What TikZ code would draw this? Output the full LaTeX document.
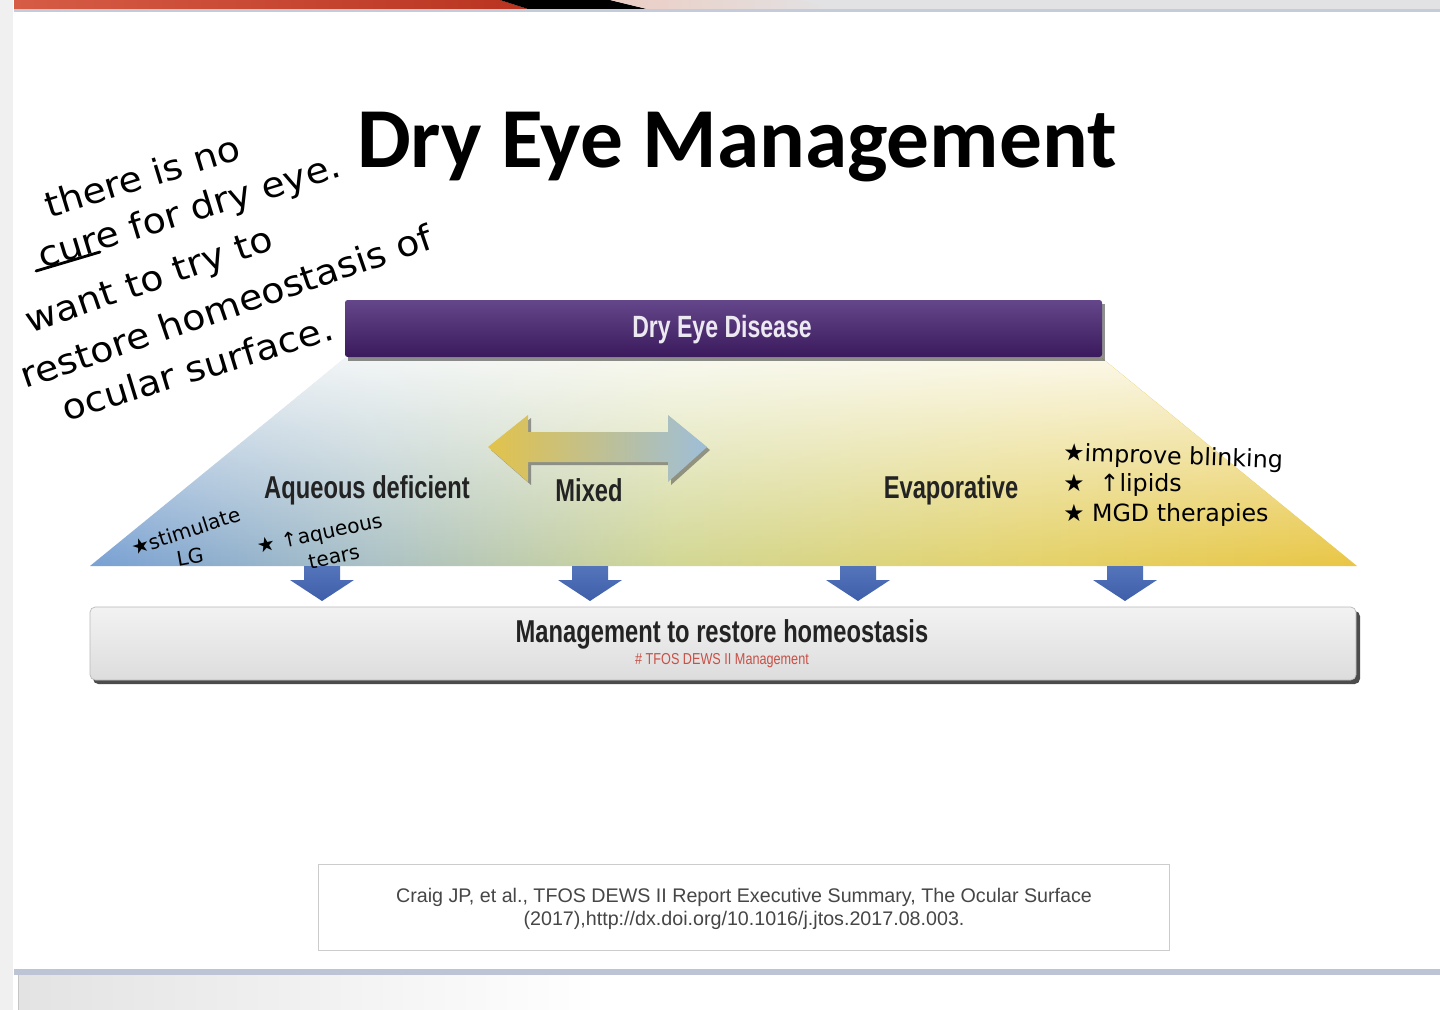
\documentclass[tikz,border=0pt]{standalone}
\usepackage{fontspec}
\usepackage{graphicx}
\usetikzlibrary{fadings}
\setmainfont{Liberation Sans}
\newfontfamily\carl{Carlito}
\newfontfamily\hand{DejaVu Sans}
\newcommand\narrowtxt[1]{\scalebox{0.75}[1]{#1}}
\newcommand\widetxt[1]{\scalebox{1.08}[1]{#1}}
\definecolor{tA}{RGB}{120,160,212}
\definecolor{tB}{RGB}{170,193,198}
\definecolor{tC}{RGB}{210,215,148}
\definecolor{tD}{RGB}{228,210,106}
\definecolor{tE}{RGB}{233,198,68}
\definecolor{purTop}{RGB}{100,70,138}
\definecolor{purBot}{RGB}{58,26,92}
\definecolor{arrBlue}{RGB}{62,94,170}
\definecolor{arrBlueT}{RGB}{84,116,186}
\definecolor{dyel}{RGB}{226,194,74}
\definecolor{dblue}{RGB}{158,190,216}
\definecolor{labtxt}{RGB}{35,35,35}
\definecolor{redtxt}{RGB}{200,80,70}
\definecolor{citetxt}{RGB}{70,70,70}
\definecolor{redA}{RGB}{214,92,70}
\definecolor{redB}{RGB}{185,52,32}
\definecolor{pinkA}{RGB}{236,205,195}
\definecolor{topgray}{RGB}{226,226,228}
\definecolor{blueline}{RGB}{196,204,220}
\pgfdeclarehorizontalshading{trapshade}{100bp}{color(0bp)=(tA); color(25bp)=(tA); color(36bp)=(tB); color(48bp)=(tC); color(62bp)=(tD); color(75bp)=(tE); color(100bp)=(tE)}
\tikzset{
  lab/.style={font=\fontsize{18}{20}\selectfont\bfseries, text=labtxt, inner sep=0pt},
  hw/.style={font=\hand\fontsize{20}{22}\selectfont, inner sep=0pt},
  hws/.style={font=\hand\fontsize{11.5}{13}\selectfont, inner sep=0pt},
  hwr/.style={font=\hand\fontsize{13.5}{15}\selectfont, inner sep=0pt, anchor=west},
  downarr/.style={top color=arrBlueT, bottom color=arrBlue, draw=none},
}
\begin{document}
\begin{tikzpicture}[x=0.02cm,y=-0.02cm]
\useasboundingbox (0,0) rectangle (1440,1010);
\fill[white] (0,0) rectangle (1440,1010);
% left strip
\fill[gray!12] (0,0) rectangle (13,1010);
% top bar
\fill[topgray] (14,0) rectangle (1440,9);
\shade[left color=redA, right color=redB] (14,0) -- (500,0) -- (528,9) -- (14,9) -- cycle;
\fill[black] (500,0) -- (610,0) -- (647,9) -- (528,9) -- cycle;
\shade[left color=pinkA, right color=topgray] (610,0) -- (800,0) -- (835,9) -- (647,9) -- cycle;
\fill[blueline] (14,9) rectangle (1440,12);
% bottom bar
\fill[blueline!90!gray] (14,969) rectangle (1440,975);
\shade[left color=gray!22, right color=white] (18,975) rectangle (600,1010);
\draw[gray!45] (18,975) -- (18,1010);

% title
\node[font=\carl\bfseries\fontsize{48.6}{52}\selectfont, anchor=base, inner sep=0pt] (title) at (737,168) {Dry Eye Management};

% trapezoid
\path[shading=trapshade] (345,358) -- (1102,358) -- (1357,566) -- (90,566) -- cycle;
\fill[white, fill opacity=0.85, path fading=south] (345,358) -- (1102,358) -- (1357,566) -- (90,566) -- cycle;

% purple bar
\fill[black!80, opacity=0.55] (348,304) rectangle (1105,361);
\shade[top color=purTop, bottom color=purBot, rounded corners=1.5pt] (345,300) rectangle (1102,357);
\node[lab, text=white!88!purTop, font=\fontsize{17.5}{20}\selectfont\bfseries] (disease) at (722,330) {\narrowtxt{Dry Eye Disease}};

% double arrow
\fill[black!70, opacity=0.55] (491,450) -- (531,418) -- (531,435) -- (671,435) -- (671,418) -- (710,450) -- (671,485) -- (671,465) -- (531,465) -- (531,485) -- cycle;
\shade[left color=dyel, right color=dblue] (488,447) -- (528,415) -- (528,432) -- (668,432) -- (668,415) -- (707,447) -- (668,482) -- (668,462) -- (528,462) -- (528,482) -- cycle;

% labels
\node[lab] (aq) at (367,490) {\narrowtxt{Aqueous deficient}};
\node[lab] (mix) at (589,490) {\narrowtxt{Mixed}};
\node[lab] (evap) at (951,490) {\narrowtxt{Evaporative}};

% management box
\fill[black!70, rounded corners=3pt] (93,611) rectangle (1360,684);
\shade[top color=gray!10, bottom color=gray!27, draw=gray!55, rounded corners=3pt] (90,607) rectangle (1356,680);
\node[lab] (mgmt) at (722,634) {\narrowtxt{Management to restore homeostasis}};
\node[text=redtxt, font=\fontsize{9}{10}\selectfont, inner sep=0pt] (tfos) at (722,661) {\scalebox{0.8}[1]{\# TFOS DEWS II Management}};

% blue down arrows
\foreach \cx/\nm in {322/a1,590/a2,858/a3,1125/a4}{
  \shade[downarr] (\cx-18,566) -- (\cx+18,566) -- (\cx+18,580) -- (\cx+32,580) -- (\cx,601) -- (\cx-32,580) -- (\cx-18,580) -- cycle;
  \coordinate (\nm) at (\cx,601);
}

% citation box
\draw[gray!40, fill=white] (318,864) rectangle (1169,950);
\node[text=citetxt, font=\fontsize{11.2}{13}\selectfont, inner sep=0pt] (cite1) at (744,897) {Craig JP, et al., TFOS DEWS II Report Executive Summary, The Ocular Surface};
\node[text=citetxt, font=\fontsize{11.2}{13}\selectfont, inner sep=0pt] (cite2) at (744,920) {(2017),http://dx.doi.org/10.1016/j.jtos.2017.08.003.};

% handwriting
\node[hw, rotate=17] (h1) at (142,176) {\widetxt{there is no}};
\node[hw, rotate=17] (h2) at (190,213) {\widetxt{cure for dry eye.}};
\draw[line width=1.6pt, line cap=round] (36,271) -- (100,252);
\node[hw, rotate=19] (h3) at (150,283) {\widetxt{want to try to}};
\node[hw, rotate=19] (h4) at (226,306) {\widetxt{restore homeostasis of}};
\node[hw, rotate=17] (h5) at (197,368) {\widetxt{ocular surface.}};

\node[hws, rotate=18] (s1) at (186,531) {★stimulate};
\node[hws, rotate=10] (s2) at (190,557) {LG};
\node[hws, rotate=12] (s3) at (320,535) {★ ↑aqueous};
\node[hws, rotate=12] (s4) at (334,557) {tears};

\node[hwr, rotate=-2] (r1) at (1063,454) {★improve blinking};
\node[hwr] (r2) at (1063,485) {★ \ ↑lipids};
\node[hwr] (r3) at (1063,515) {★ MGD therapies};
\end{tikzpicture}
\end{document}
